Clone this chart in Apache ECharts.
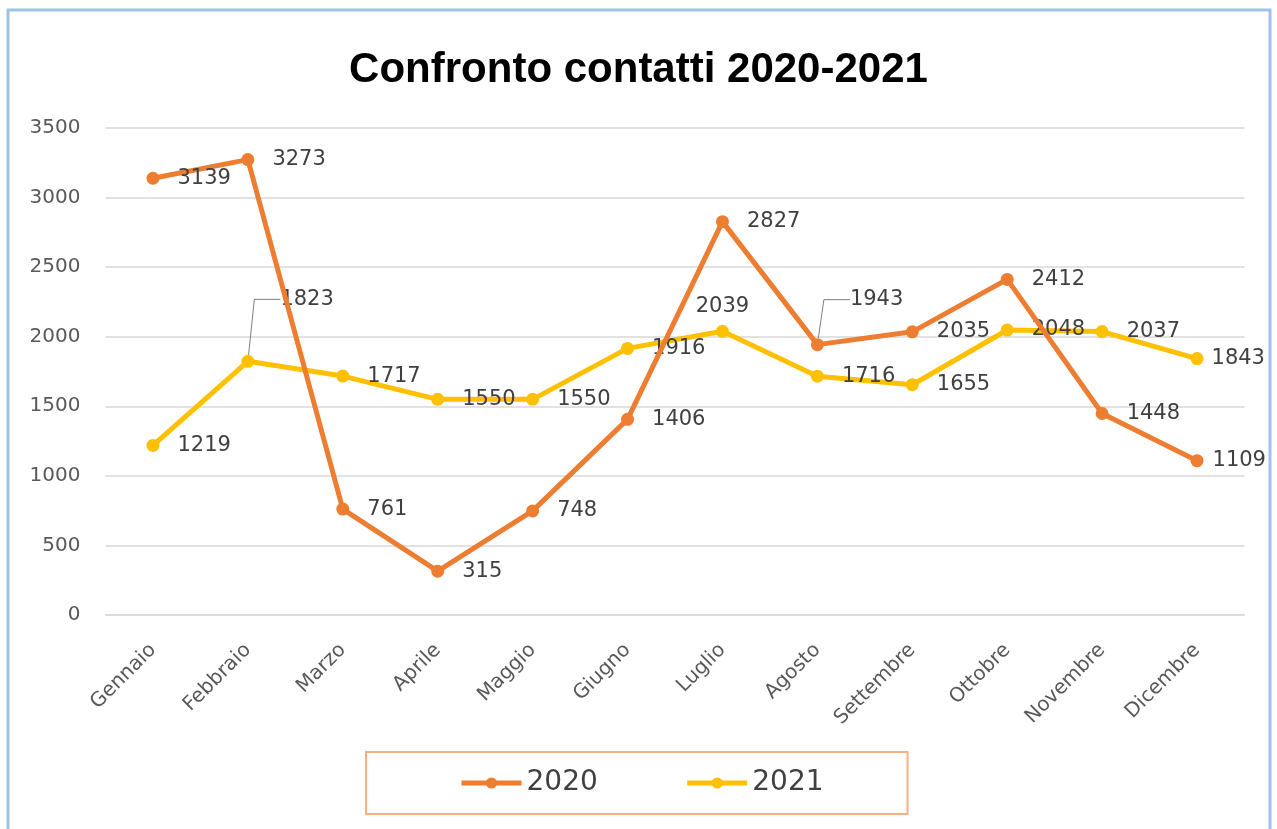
<!DOCTYPE html>
<html>
<head>
<meta charset="utf-8">
<title>Confronto contatti 2020-2021</title>
<script src="https://cdn.jsdelivr.net/npm/echarts@6/dist/echarts.min.js"></script>
<style>
  html, body { margin: 0; padding: 0; background: #ffffff; }
  #chart { width: 1277px; height: 829px; }
</style>
</head>
<body>
<div id="chart"></div>
<script>
// Monthly contacts, 2020 vs 2021
const months = ['Gennaio', 'Febbraio', 'Marzo', 'Aprile', 'Maggio', 'Giugno',
  'Luglio', 'Agosto', 'Settembre', 'Ottobre', 'Novembre', 'Dicembre'];
const contacts2020 = [3139, 3273, 761, 315, 748, 1406, 2827, 1943, 2035, 2412, 1448, 1109];
const contacts2021 = [1219, 1823, 1717, 1550, 1550, 1916, 2039, 1716, 1655, 2048, 2037, 1843];
const yTicks = [0, 500, 1000, 1500, 2000, 2500, 3000, 3500];

const FONT = 'DejaVu Sans';
const ORANGE = '#ED7D31';
const GOLD = '#FFC000';

// Per-point label tweaks: labels lifted away from crowded spots get a guide line
const labelMoves2020 = { 7: { dx: 8, dy: -45 } };
const labelMoves2021 = { 1: { dx: 8, dy: -62 } };
const labelTweaks2020 = { 11: { distance: 9 } };
const labelTweaks2021 = { 6: { position: 'top', distance: 8 }, 11: { distance: 8 } };

function buildData(values, moves, tweaks) {
  return values.map((v, i) => {
    const item = { value: v };
    if (tweaks[i]) item.label = tweaks[i];
    if (moves[i]) item.labelLine = { show: true };
    return item;
  });
}

function layoutFrom(moves) {
  return function (params) {
    const m = moves[params.dataIndex];
    return m ? { dx: m.dx, dy: m.dy } : {};
  };
}

const labelBase = {
  show: true,
  position: 'right',
  distance: 18,
  color: '#404040',
  fontFamily: FONT,
  fontSize: 21
};

const guideLine = {
  length2: 26,
  minTurnAngle: 0,
  lineStyle: { color: '#7F7F7F', width: 1 }
};

const chart = echarts.init(document.getElementById('chart'), null, { renderer: 'canvas' });

chart.setOption({
  backgroundColor: '#ffffff',
  animation: false,
  title: {
    text: 'Confronto contatti 2020-2021',
    left: 'center',
    top: 44,
    textStyle: {
      fontFamily: 'Liberation Sans',
      fontWeight: 'bold',
      fontSize: 42,
      color: '#000000'
    }
  },
  graphic: [{
    type: 'rect',
    shape: { x: 8, y: 10, width: 1262, height: 830 },
    style: { fill: 'none', stroke: '#9DC3E6', lineWidth: 3 },
    silent: true
  }],
  legend: {
    data: ['2020', '2021'],
    left: 366,
    top: 752,
    padding: [17, 84, 17, 93],
    itemGap: 87,
    itemWidth: 60,
    itemHeight: 14,
    borderColor: '#F4B183',
    borderWidth: 2,
    lineStyle: { width: 5 },
    textStyle: { fontFamily: FONT, fontSize: 28, color: '#404040' }
  },
  grid: {
    left: 105.5,
    right: 32.5,
    top: 128,
    bottom: 214,
    containLabel: false
  },
  xAxis: {
    type: 'category',
    data: months,
    boundaryGap: true,
    axisLine: { show: true, lineStyle: { color: '#D9D9D9', width: 1.5 } },
    axisTick: { show: false },
    axisLabel: {
      rotate: 45,
      margin: 32,
      interval: 0,
      color: '#595959',
      fontFamily: FONT,
      fontSize: 20
    }
  },
  yAxis: {
    type: 'value',
    min: yTicks[0],
    max: yTicks[yTicks.length - 1],
    interval: yTicks[1] - yTicks[0],
    axisLine: { show: false },
    axisTick: { show: false },
    splitLine: { lineStyle: { color: '#D9D9D9', width: 1.5 } },
    axisLabel: {
      margin: 25,
      color: '#595959',
      fontFamily: FONT,
      fontSize: 20,
      formatter: (v) => String(v)
    }
  },
  series: [
    {
      name: '2020',
      type: 'line',
      data: buildData(contacts2020, labelMoves2020, labelTweaks2020),
      symbol: 'circle',
      symbolSize: 13,
      lineStyle: { color: ORANGE, width: 5 },
      itemStyle: { color: ORANGE },
      label: labelBase,
      labelLine: guideLine,
      labelLayout: layoutFrom(labelMoves2020),
      z: 3
    },
    {
      name: '2021',
      type: 'line',
      data: buildData(contacts2021, labelMoves2021, labelTweaks2021),
      symbol: 'circle',
      symbolSize: 13,
      lineStyle: { color: GOLD, width: 5 },
      itemStyle: { color: GOLD },
      label: labelBase,
      labelLine: guideLine,
      labelLayout: layoutFrom(labelMoves2021),
      z: 2
    }
  ]
});
</script>
</body>
</html>
